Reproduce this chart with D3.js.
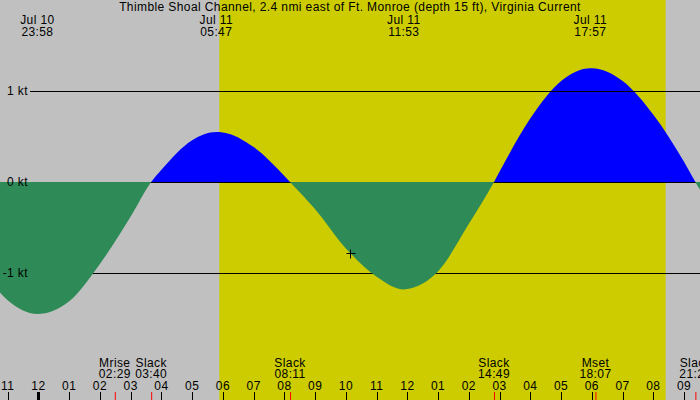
<!DOCTYPE html>
<html>
<head>
<meta charset="utf-8">
<script src="https://cdn.jsdelivr.net/npm/d3@7"></script>
<style>
    body { margin: 0; background: #c0c0c0; }
    svg { display: block; font-family: "Liberation Sans", Arial, sans-serif;
          font-size: 12px; letter-spacing: 0.4px; }
</style>
</head>
<body>
<div id="chart"></div>
<script>
// station and plotted time window
const stationName = "Thimble Shoal Channel, 2.4 nmi east of Ft. Monroe (depth 15 ft), Virginia Current";
const windowTimes = ["07-10 22:45", "07-11 21:31"];
const sunTimes = ["07-11 05:53", "07-11 20:24"];

// current speed (kt), flood positive
const curveTimes = ["07-10 22:00", "07-10 23:00", "07-10 23:58", "07-11 01:00",
                    "07-11 02:00", "07-11 03:00", "07-11 03:40", "07-11 04:00",
                    "07-11 05:00", "07-11 05:47", "07-11 06:00", "07-11 07:00",
                    "07-11 08:00", "07-11 08:11", "07-11 09:00", "07-11 10:00",
                    "07-11 11:00", "07-11 11:53", "07-11 12:00", "07-11 13:00",
                    "07-11 14:00", "07-11 14:49", "07-11 15:00", "07-11 16:00",
                    "07-11 17:00", "07-11 17:57", "07-11 18:00", "07-11 19:00",
                    "07-11 20:00", "07-11 21:00", "07-11 21:22", "07-11 22:00"];
const curveKnots = [-0.86, -1.30, -1.45, -1.31,
                    -0.90, -0.38, 0, 0.135,
                    0.46, 0.55, 0.545, 0.385,
                    0.066, 0, -0.30, -0.73,
                    -1.04, -1.18, -1.175, -0.98,
                    -0.46, 0, 0.115, 0.70,
                    1.11, 1.25, 1.25, 1.11,
                    0.74, 0.22, 0, -0.35];

// max flood / ebb labels along the top
const maxTimes = ["07-10 23:58", "07-11 05:47", "07-11 11:53", "07-11 17:57"];

// slack and moon events along the bottom
const eventTimes = ["07-11 02:29", "07-11 03:40", "07-11 08:11",
                    "07-11 14:49", "07-11 18:07", "07-11 21:22"];
const eventNames = ["Mrise", "Slack", "Slack", "Slack", "Mset", "Slack"];

// speed grid lines
const levelTicks = [1, 0, -1];

// current time mark
const nowTime = "07-11 10:08";
const nowValue = -0.78;


window.onload = function() {
    main();
};


/**
 * Draws the whole tide current graph.
 */
function main() {
    let w = 700;
    let h = 400;
    let parse = d3.utcParse("%m-%d %H:%M");

    let svg = d3.select("#chart")
                .append("svg")
                .attr("width", w)
                .attr("height", h);

    // time and speed scales
    let x = d3.scaleUtc()
              .domain(windowTimes.map(parse))
              .range([0, w]);
    let y = d3.scaleLinear()
              .domain([-2, 2])
              .range([364, 0]);

    let data = curveTimes.map(function(t, i) {
        return {time: parse(t), value: curveKnots[i]};
    });

    // night background and daylight band
    svg.append("rect")
       .attr("width", w)
       .attr("height", h)
       .attr("fill", "#c0c0c0");

    svg.append("rect")
       .attr("x", x(parse(sunTimes[0])))
       .attr("width", x(parse(sunTimes[1])) - x(parse(sunTimes[0])))
       .attr("height", h)
       .attr("fill", "#cccc00");

    // clip regions above and below slack water
    let defs = svg.append("defs");
    defs.append("clipPath")
        .attr("id", "flood-clip")
        .append("rect")
        .attr("width", w)
        .attr("height", y(0));
    defs.append("clipPath")
        .attr("id", "ebb-clip")
        .append("rect")
        .attr("y", y(0))
        .attr("width", w)
        .attr("height", h - y(0));

    let area = d3.area()
                 .x(function(d) { return x(d.time); })
                 .y0(y(0))
                 .y1(function(d) { return y(d.value); })
                 .curve(d3.curveMonotoneX);

    // flood in blue
    svg.append("path")
       .datum(data)
       .attr("clip-path", "url(#flood-clip)")
       .attr("fill", "#0000ff")
       .attr("d", area);

    // speed grid lines
    svg.append("g")
       .selectAll("line")
       .data(levelTicks)
       .enter()
       .append("line")
       .attr("x1", 30)
       .attr("x2", w)
       .attr("y1", function(d) { return Math.round(y(d)) + 0.5; })
       .attr("y2", function(d) { return Math.round(y(d)) + 0.5; })
       .attr("stroke", "#000")
       .attr("stroke-width", 1);

    // ebb in green, covering the grid lines
    svg.append("path")
       .datum(data)
       .attr("clip-path", "url(#ebb-clip)")
       .attr("fill", "#2e8b57")
       .attr("d", area);

    // speed labels
    svg.append("g")
       .selectAll("text")
       .data(levelTicks)
       .enter()
       .append("text")
       .attr("x", 28)
       .attr("y", function(d) { return y(d) + 4; })
       .attr("text-anchor", "end")
       .text(function(d) { return d + " kt"; });

    // current time cross
    let nx = Math.round(x(parse(nowTime))) + 0.5;
    let ny = Math.round(y(nowValue)) + 0.5;
    svg.append("path")
       .attr("d", "M" + (nx - 4) + "," + ny + "H" + (nx + 5) +
                  "M" + nx + "," + (ny - 4) + "V" + (ny + 5))
       .attr("stroke", "#000")
       .attr("stroke-width", 1);

    // title
    svg.append("text")
       .attr("x", w / 2)
       .attr("y", 11)
       .attr("text-anchor", "middle")
       .text(stationName);

    // max current dates and times
    let formatDay = d3.utcFormat("%b %-d");
    let formatTime = d3.utcFormat("%H:%M");
    let tops = svg.append("g")
                  .selectAll("g")
                  .data(maxTimes.map(parse))
                  .enter()
                  .append("g")
                  .attr("transform", function(d) {
                      return "translate(" + x(d) + ",0)";
                  });
    tops.append("text")
        .attr("y", 24)
        .attr("text-anchor", "middle")
        .text(formatDay);
    tops.append("text")
        .attr("y", 36)
        .attr("text-anchor", "middle")
        .text(formatTime);

    // hour ticks along the bottom
    let hours = x.ticks(d3.utcHour.every(1));
    let formatHour = d3.utcFormat("%I");
    let hourG = svg.append("g");
    hourG.selectAll("line")
         .data(hours)
         .enter()
         .append("line")
         .attr("x1", function(d) { return Math.round(x(d)) + 0.5; })
         .attr("x2", function(d) { return Math.round(x(d)) + 0.5; })
         .attr("y1", 392)
         .attr("y2", 400)
         .attr("stroke", "#000")
         .attr("stroke-width", function(d) {
             return d.getUTCHours() === 0 ? 3 : 1;
         });
    hourG.selectAll("text")
         .data(hours)
         .enter()
         .append("text")
         .attr("x", function(d) { return x(d); })
         .attr("y", 390)
         .attr("text-anchor", "middle")
         .text(formatHour);

    // slack and moon events
    let events = svg.append("g")
                    .selectAll("g")
                    .data(eventTimes.map(function(t, i) {
                        return {time: parse(t), name: eventNames[i]};
                    }))
                    .enter()
                    .append("g")
                    .attr("transform", function(d) {
                        return "translate(" + x(d.time) + ",0)";
                    });
    events.append("line")
          .attr("x1", 0.5)
          .attr("x2", 0.5)
          .attr("y1", 392)
          .attr("y2", 400)
          .attr("stroke", "#ff0000");
    events.append("text")
          .attr("y", 367)
          .attr("text-anchor", "middle")
          .text(function(d) { return d.name; });
    events.append("text")
          .attr("y", 378)
          .attr("text-anchor", "middle")
          .text(function(d) { return formatTime(d.time); });
}
</script>
</body>
</html>
